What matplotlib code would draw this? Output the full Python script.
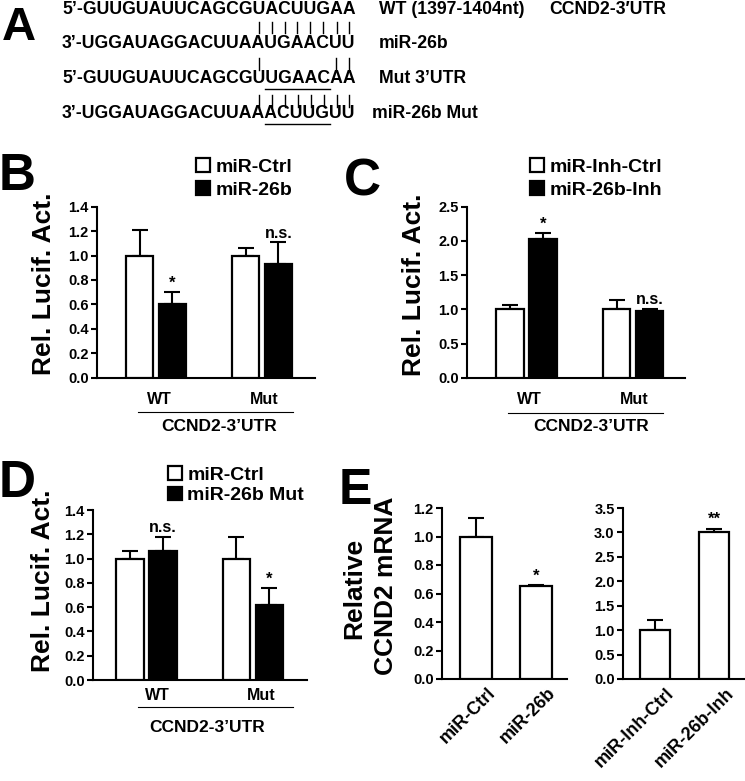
import numpy as np
import matplotlib
matplotlib.use('Agg')
import matplotlib.pyplot as plt
import matplotlib.transforms as mtransforms
from matplotlib.font_manager import FontProperties

# ---- panel A: sequence alignment ----
seq_lines = ['5’-GUUGUAUUCAGCGUACUUGAA',
             '3’-UGGAUAGGACUUAAUGAACUU',
             '5’-GUUGUAUUCAGCGUUGAACAA',
             '3’-UGGAUAGGACUUAAACUUGUU']
seq_names = ['WT (1397-1404nt)', 'miR-26b', 'Mut 3’UTR', 'miR-26b Mut']
gene_name = 'CCND2-3′UTR'
# paired bases (1-based nucleotide index) between consecutive lines
pairs = [[14, 15, 16, 17, 18, 19, 20, 21],
         [14, 20, 21],
         [14, 15, 16, 17, 18, 19, 20, 21]]
mutated = (15, 19)  # underlined bases in lines 3 and 4

# ---- panels B-D: luciferase ----
groups = ['WT', 'Mut']
b_names = ['miR-Ctrl', 'miR-26b']
b_ctrl, b_ctrl_err = [1.00, 1.00], [0.21, 0.06]
b_trt, b_trt_err = [0.60, 0.93], [0.10, 0.18]
b_marks = ['*', 'n.s.']

c_names = ['miR-Inh-Ctrl', 'miR-26b-Inh']
c_ctrl, c_ctrl_err = [1.00, 1.00], [0.06, 0.13]
c_trt, c_trt_err = [2.03, 0.97], [0.08, 0.04]
c_marks = ['*', 'n.s.']

d_names = ['miR-Ctrl', 'miR-26b Mut']
d_ctrl, d_ctrl_err = [1.00, 1.00], [0.06, 0.18]
d_trt, d_trt_err = [1.06, 0.62], [0.12, 0.14]
d_marks = ['n.s.', '*']

# ---- panel E: qPCR ----
e1_names = ['miR-Ctrl', 'miR-26b']
e1_vals, e1_err = [1.00, 0.65], [0.13, 0.01]
e1_marks = ['', '*']
e2_names = ['miR-Inh-Ctrl', 'miR-26b-Inh']
e2_vals, e2_err = [1.00, 3.00], [0.20, 0.08]
e2_marks = ['', '**']

plt.rcParams['font.family'] = ['Liberation Sans', 'DejaVu Sans']
plt.rcParams['font.weight'] = 'bold'
plt.rcParams['axes.linewidth'] = 1.5

W, H = 745, 781
fig = plt.figure(figsize=(W / 100, H / 100), dpi=100)


def fx(x):
    return x / W


def fy(y):
    return 1 - y / H


def px_ax(x0, x1, ytop, ybot):
    return fig.add_axes([fx(x0), fy(ybot), (x1 - x0) / W, (ybot - ytop) / H])


def style(ax, ymax, ystep, xpad):
    ax.set_ylim(0, ymax)
    ax.set_yticks(np.arange(0, ymax + ystep / 2, ystep))
    ax.yaxis.set_major_formatter('{x:.1f}')
    for s in ['top', 'right']:
        ax.spines[s].set_visible(False)
    ax.tick_params(axis='y', direction='out', length=4, width=1.5,
                   labelsize=10.5, pad=2)
    ax.tick_params(axis='x', length=0, labelsize=11.5, pad=xpad)


def add_bars(ax, x, vals, err, w, fc, label=None):
    ax.bar(x, vals, w, color=fc, edgecolor='black', linewidth=1.6,
           label=label, zorder=3)
    ax.errorbar(x, vals, yerr=[np.zeros(len(x)), err], fmt='none',
                ecolor='black', elinewidth=1.5, capsize=6, capthick=1.5,
                zorder=2)


def marks_on(ax, x, tops, marks):
    for xi, top, m in zip(x, tops, marks):
        if m:
            ax.annotate(m, (xi, top), xytext=(0, 1), textcoords='offset points',
                        ha='center', va='bottom',
                        fontsize=12 if '*' in m else 11.5)


def grouped(box, names, ctrl, ctrl_err, trt, trt_err, marks, ymax, ystep,
            xlim, tickx, xpad, uline, uy, gx, gy, leg_xy, lspace, ylab_xy):
    ax = px_ax(*box)
    x = np.arange(len(groups))
    off, w = 0.155, 0.26
    add_bars(ax, x - off, ctrl, ctrl_err, w, 'white', names[0])
    add_bars(ax, x + off, trt, trt_err, w, 'black', names[1])
    marks_on(ax, x + off, np.add(trt, trt_err), marks)
    style(ax, ymax, ystep, xpad)
    ax.set_xlim(*xlim)
    ax.set_xticks(tickx, groups)
    trans = mtransforms.blended_transform_factory(ax.transData, ax.transAxes)
    ax.plot(uline, [uy, uy], color='black', lw=0.8, transform=trans,
            clip_on=False)
    ax.text(gx, gy, 'CCND2-3’UTR', transform=trans, ha='center', va='center',
            fontsize=12.5)
    ax.legend(loc='upper left', bbox_to_anchor=(fx(leg_xy[0]), fy(leg_xy[1])),
              bbox_transform=fig.transFigure, frameon=False, fontsize=14,
              handlelength=0.7, handleheight=0.7, handletextpad=0.3,
              labelspacing=lspace, borderpad=0, borderaxespad=0)
    fig.text(fx(ylab_xy[0]), fy(ylab_xy[1]), 'Rel. Lucif. Act.', rotation=90,
             ha='center', va='center', fontsize=19)
    return ax


# ---- panel A ----
fp = FontProperties(family=['Liberation Sans', 'DejaVu Sans'], weight='bold',
                    size=12.7)
renderer = fig.canvas.get_renderer()
x0 = 62
baselines = [13.5, 48, 83, 118]
for s, name, yb in zip(seq_lines, seq_names, baselines):
    fig.text(fx(x0), fy(yb), s, fontproperties=fp, ha='left', va='baseline')
    fig.text(fx(379 if name != 'miR-26b Mut' else 372), fy(yb), name,
             fontproperties=fp, ha='left', va='baseline')
fig.text(fx(549), fy(baselines[0]), gene_name, fontproperties=fp,
         ha='left', va='baseline')


def char_span(s, idx):
    a = renderer.get_text_width_height_descent(s[:idx], fp, ismath=False)[0] if idx else 0
    b = renderer.get_text_width_height_descent(s[:idx + 1], fp, ismath=False)[0]
    return x0 + a, x0 + b


bar_rows = [(22, 33), (58, 70), (95, 107)]
for k, (yt, yb) in enumerate(bar_rows):
    for p in pairs[k]:
        a, b = char_span(seq_lines[k], p + 2)
        xc = (a + b) / 2
        fig.add_artist(plt.Line2D([fx(xc), fx(xc)], [fy(yt), fy(yb)],
                                  color='black', lw=1.0))
for k, yu in [(2, 89), (3, 124)]:
    a, _ = char_span(seq_lines[k], mutated[0] + 2)
    _, b = char_span(seq_lines[k], mutated[1] + 2)
    fig.add_artist(plt.Line2D([fx(a), fx(b)], [fy(yu), fy(yu)],
                              color='black', lw=1.0))

# ---- panels B, C, D ----
grouped((97, 315, 206.7, 377.7), b_names, b_ctrl, b_ctrl_err, b_trt, b_trt_err,
        b_marks, 1.4, 0.2, (-0.557, 1.5), [0.03, 1.02], 10,
        [-0.17, 1.29], -0.199, 0.6, -0.287, (196, 158), 0.3, (44, 284))
grouped((467, 685, 206.7, 377.7), c_names, c_ctrl, c_ctrl_err, c_trt, c_trt_err,
        c_marks, 2.5, 0.5, (-0.559, 1.488), [0.03, 1.01], 10,
        [-0.17, 1.28], -0.205, 0.606, -0.288, (530, 158), 0.3, (414, 285))
grouped((93, 307, 510, 680), d_names, d_ctrl, d_ctrl_err, d_trt, d_trt_err,
        d_marks, 1.4, 0.2, (-0.50, 1.507), [0.1, 1.08], 6,
        [-0.08, 1.376], -0.159, 0.57, -0.282, (168, 466), 0.15, (43, 581))

# ---- panel E ----
for box, names, vals, err, marks, ymax, ystep, xlim, w in [
        ((442, 567, 508, 679), e1_names, e1_vals, e1_err, e1_marks, 1.2, 0.2,
         (-0.567, 1.517), 0.53),
        ((623, 744, 508, 679), e2_names, e2_vals, e2_err, e2_marks, 3.5, 0.5,
         (-0.533, 1.5), 0.5)]:
    ax = px_ax(*box)
    x = np.arange(len(names))
    add_bars(ax, x, vals, err, w, 'white')
    marks_on(ax, x, np.add(vals, err), marks)
    style(ax, ymax, ystep, 4)
    ax.set_xlim(*xlim)
    ax.set_xticks(x, names, rotation=45, ha='right', va='top',
                  rotation_mode='anchor', fontsize=13)
    shift = mtransforms.ScaledTranslation(8 / 72, 0, fig.dpi_scale_trans)
    for lab in ax.get_xticklabels():
        lab.set_transform(lab.get_transform() + shift)

fig.text(fx(354), fy(588), 'Relative', rotation=90, ha='center', va='center',
         fontsize=19)
fig.text(fx(386), fy(586), 'CCND2 mRNA', rotation=90, ha='center',
         va='center', fontsize=19)

# ---- panel letters ----
for letter, xc, yb, fs in [('A', 19, 40, 34), ('B', 17.5, 190, 37),
                           ('C', 362, 195, 37), ('D', 17.5, 497, 37),
                           ('E', 355, 504, 36)]:
    fig.text(fx(xc), fy(yb), letter, fontsize=fs, ha='center', va='baseline')

fig.savefig('out.png', dpi=100)
